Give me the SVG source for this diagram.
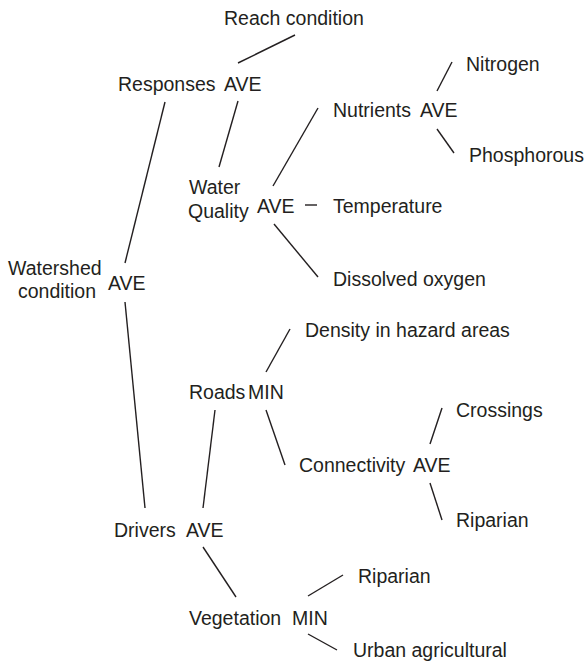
<svg xmlns="http://www.w3.org/2000/svg" width="588" height="664" viewBox="0 0 588 664">
<style>
text{font-family:"Liberation Sans",Arial,sans-serif;font-size:19.5px;fill:#231f20}
.c line{stroke:#231f20;stroke-width:1.4;stroke-linecap:butt}
</style>
<rect width="588" height="664" fill="#fff"/>
<g class="c" id="connectors">
<line x1="238" y1="63" x2="295" y2="35"/>
<line x1="165" y1="102" x2="125" y2="263"/>
<line x1="238" y1="101" x2="219" y2="167"/>
<line x1="273" y1="186" x2="318" y2="108"/>
<line x1="274" y1="224" x2="318" y2="277"/>
<line x1="305" y1="205" x2="317" y2="205"/>
<line x1="437" y1="91" x2="452" y2="62"/>
<line x1="437" y1="129" x2="454" y2="153"/>
<line x1="125" y1="302" x2="145" y2="508"/>
<line x1="266" y1="372" x2="290" y2="329"/>
<line x1="266" y1="410" x2="285" y2="465"/>
<line x1="215" y1="410" x2="203" y2="508"/>
<line x1="203" y1="547" x2="236" y2="597"/>
<line x1="430" y1="444" x2="442" y2="408"/>
<line x1="430" y1="483" x2="442" y2="520"/>
<line x1="308" y1="596" x2="343" y2="575"/>
<line x1="308" y1="634" x2="337" y2="650"/>
</g>
<g id="reach"><text x="224" y="25">Reach condition</text></g>
<g id="responses"><text x="118" y="91">Responses</text><text x="224" y="91">AVE</text></g>
<g id="waterquality"><text x="189" y="194">Water</text><text x="188" y="218">Quality</text><text x="257" y="213">AVE</text></g>
<g id="nutrients"><text x="333" y="117">Nutrients</text><text x="420" y="117">AVE</text></g>
<g id="nitrogen"><text x="466" y="71">Nitrogen</text></g>
<g id="phosphorous"><text x="469" y="162">Phosphorous</text></g>
<g id="temperature"><text x="333" y="213">Temperature</text></g>
<g id="dissolved"><text x="333" y="286">Dissolved oxygen</text></g>
<g id="watershed"><text x="8" y="275">Watershed</text><text x="18" y="298">condition</text><text x="108" y="290">AVE</text></g>
<g id="roads"><text x="189" y="399">Roads</text><text x="248" y="399">MIN</text></g>
<g id="density"><text x="305" y="337">Density in hazard areas</text></g>
<g id="connectivity"><text x="299" y="472">Connectivity</text><text x="413" y="472">AVE</text></g>
<g id="crossings"><text x="456" y="417">Crossings</text></g>
<g id="riparian1"><text x="456" y="527">Riparian</text></g>
<g id="drivers"><text x="114" y="537">Drivers</text><text x="186" y="537">AVE</text></g>
<g id="vegetation"><text x="189" y="625">Vegetation</text><text x="292" y="625">MIN</text></g>
<g id="riparian2"><text x="358" y="583">Riparian</text></g>
<g id="urban"><text x="353" y="657">Urban agricultural</text></g>
</svg>
